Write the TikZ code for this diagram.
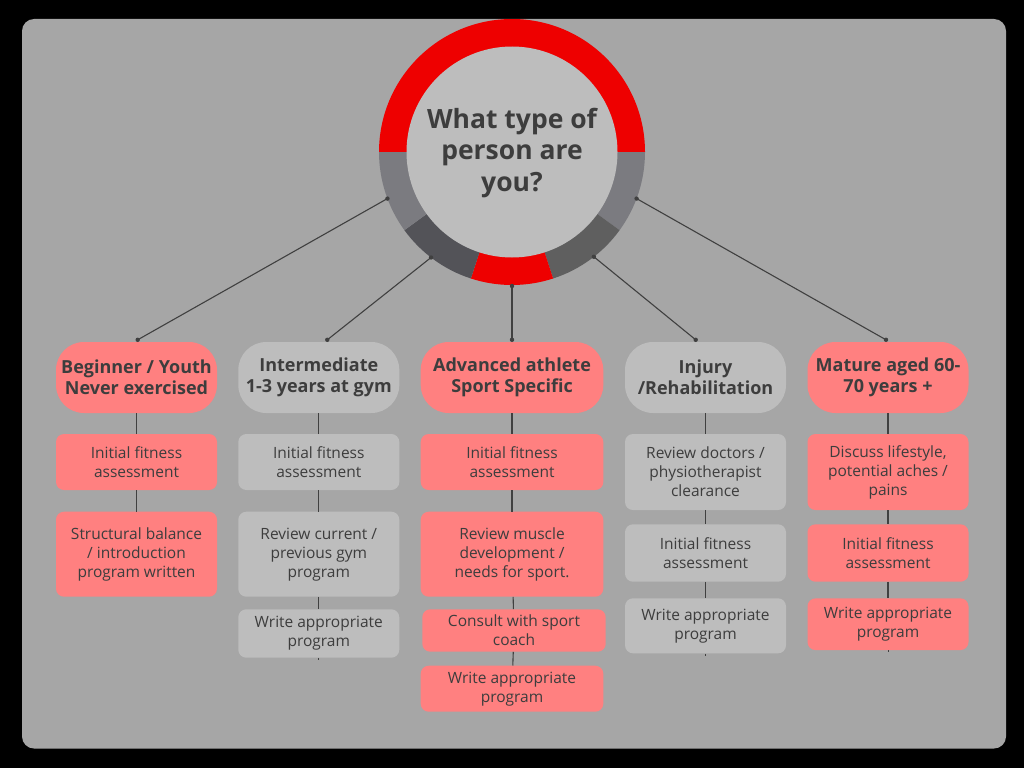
\documentclass[tikz,border=0pt]{standalone}
\usepackage{fontspec}
\setmainfont{Open Sans}
\definecolor{panel}{HTML}{A6A6A6}
\definecolor{salmon}{HTML}{FF8080}
\definecolor{lgrey}{HTML}{BDBDBD}
\definecolor{txt}{HTML}{3D3D3D}
\definecolor{ringred}{HTML}{EE0000}
\definecolor{ringgrey}{HTML}{7B7B80}
\definecolor{ringdarkL}{HTML}{535358}
\definecolor{ringdarkR}{HTML}{5F5F5F}
\definecolor{conn}{HTML}{404040}
\begin{document}
\begin{tikzpicture}[x=1pt,y=-1pt,
  hdr/.style={rounded corners=28pt, minimum width=161pt, minimum height=71pt, inner sep=0pt,
    font=\bfseries\fontsize{18}{21.3}\selectfont, text=txt, align=center},
  sub/.style={rounded corners=8pt, minimum width=161pt, inner sep=0pt,
    font=\fontsize{15.5}{19}\selectfont, text=txt, align=center},
  pk/.style={fill=salmon},
  gy/.style={fill=lgrey},
  link/.style={draw=conn, line width=1.1pt},
  dot/.style={fill=conn}]
\useasboundingbox (0,0) rectangle (1024,768);
\fill[black] (0,0) rectangle (1024,768);
\fill[panel, rounded corners=12pt] (22,19) rectangle (1006,748.5);
% ring
\coordinate (c) at (512,152);
\fill[ringred] (c) -- ++(180:133) arc[start angle=180,end angle=360,radius=133] -- cycle;
\fill[ringgrey] (c) -- ++(0:133) arc[start angle=0,end angle=36,radius=133] -- cycle;
\fill[ringdarkR] (c) -- ++(36:133) arc[start angle=36,end angle=72,radius=133] -- cycle;
\fill[ringred] (c) -- ++(72:133) arc[start angle=72,end angle=108,radius=133] -- cycle;
\fill[ringdarkL] (c) -- ++(108:133) arc[start angle=108,end angle=144,radius=133] -- cycle;
\fill[ringgrey] (c) -- ++(144:133) arc[start angle=144,end angle=180,radius=133] -- cycle;
\fill[lgrey] (c) circle[radius=105.5];
\node[font=\bfseries\fontsize{26.5}{31.7}\selectfont, text=txt, align=center] (q) at (512,153) {What type of\\person are\\you?};
% ring anchor points
\path (c) ++(159.5:133) coordinate (d1);
\path (c) ++(127.5:133) coordinate (d2);
\path (c) ++(90:134) coordinate (d3);
\path (c) ++(52:133) coordinate (d4);
\path (c) ++(20.5:133) coordinate (d5);
% headers
\node[hdr,pk] (h1) at (136.5,377.5) {Beginner / Youth\\Never exercised};
\node[hdr,gy] (h2) at (318.8,377.5) {Intermediate\\1-3 years at gym};
\node[hdr,pk,minimum width=182.6pt] (h3) at (512,377.5) {Advanced athlete\\Sport Specific};
\node[hdr,gy] (h4) at (705.5,377.5) {Injury\\/Rehabilitation};
\node[hdr,pk] (h5) at (888,377.5) {Mature aged 60-\\70 years +};
% column 1
\node[sub,pk,minimum height=56pt] (b11) at (136.5,462) {Initial fitness\\assessment};
\node[sub,pk,minimum height=85pt] (b12) at (136.5,554.2) {Structural balance\\/ introduction\\program written};
% column 2
\node[sub,gy,minimum height=56pt] (b21) at (318.8,462) {Initial fitness\\assessment};
\node[sub,gy,minimum height=85pt] (b22) at (318.8,554.2) {Review current /\\previous gym\\program};
\node[sub,gy,minimum height=48.4pt] (b23) at (318.8,633.5) {Write appropriate\\program};
% column 3
\node[sub,pk,minimum width=182.6pt,minimum height=56pt] (b31) at (512,462) {Initial fitness\\assessment};
\node[sub,pk,minimum width=182.6pt,minimum height=85pt] (b32) at (512,554.2) {Review muscle\\development /\\needs for sport.};
\node[sub,pk,minimum width=183.4pt,minimum height=42.4pt] (b33) at (514,630.5) {Consult with sport\\coach};
\node[sub,pk,minimum width=182.6pt,minimum height=46pt] (b34) at (512,688.7) {Write appropriate\\program};
% column 4
\node[sub,gy,minimum height=76pt] (b41) at (705.5,472) {Review doctors /\\physiotherapist\\clearance};
\node[sub,gy,minimum height=57.4pt] (b42) at (705.5,553) {Initial fitness\\assessment};
\node[sub,gy,minimum height=55pt] (b43) at (705.5,625.8) {Write appropriate\\program};
% column 5
\node[sub,pk,minimum height=76pt] (b51) at (888,472) {Discuss lifestyle,\\potential aches /\\pains};
\node[sub,pk,minimum height=57.4pt] (b52) at (888,553) {Initial fitness\\assessment};
\node[sub,pk,minimum height=51.7pt] (b53) at (888,624.2) {Write appropriate\\program};
% header attach points
\coordinate (t1) at ([xshift=1.2pt,yshift=2pt]h1.north);
\coordinate (t2) at ([xshift=8.5pt,yshift=2pt]h2.north);
\coordinate (t3) at ([yshift=2pt]h3.north);
\coordinate (t4) at ([xshift=-9.8pt,yshift=2pt]h4.north);
\coordinate (t5) at ([xshift=-2pt,yshift=2pt]h5.north);
% connectors from ring
\foreach \i in {1,...,5} {
  \draw[link] (d\i) -- (t\i);
  \fill[dot] (d\i) circle[radius=2.2];
  \fill[dot] (t\i) circle[radius=2.2];
}
% vertical connectors
\draw[link] (h1) -- (b11);
\draw[link] (b11) -- (b12);
\draw[link] (h2) -- (b21);
\draw[link] (b21) -- (b22);
\draw[link] (b22) -- (b23);
\draw[link] (h3) -- (b31);
\draw[link] (b31) -- (b32);
\draw[link] (b32) -- (b33);
\draw[link] (b33) -- (b34);
\draw[link] (h4) -- (b41);
\draw[link] (b41) -- (b42);
\draw[link] (b42) -- (b43);
\draw[link] (h5) -- (b51);
\draw[link] (b51) -- (b52);
\draw[link] (b52) -- (b53);
% small stubs under last boxes
\coordinate (s2) at ([yshift=-2pt]b23.south);
\coordinate (s4) at ([yshift=-2pt]b43.south);
\coordinate (s5) at ([yshift=-2pt]b53.south);
\draw[link,line width=0.8pt] (b23) -- (s2);
\draw[link,line width=0.8pt] (b43) -- (s4);
\draw[link,line width=0.8pt] (b53) -- (s5);
\end{tikzpicture}
\end{document}
